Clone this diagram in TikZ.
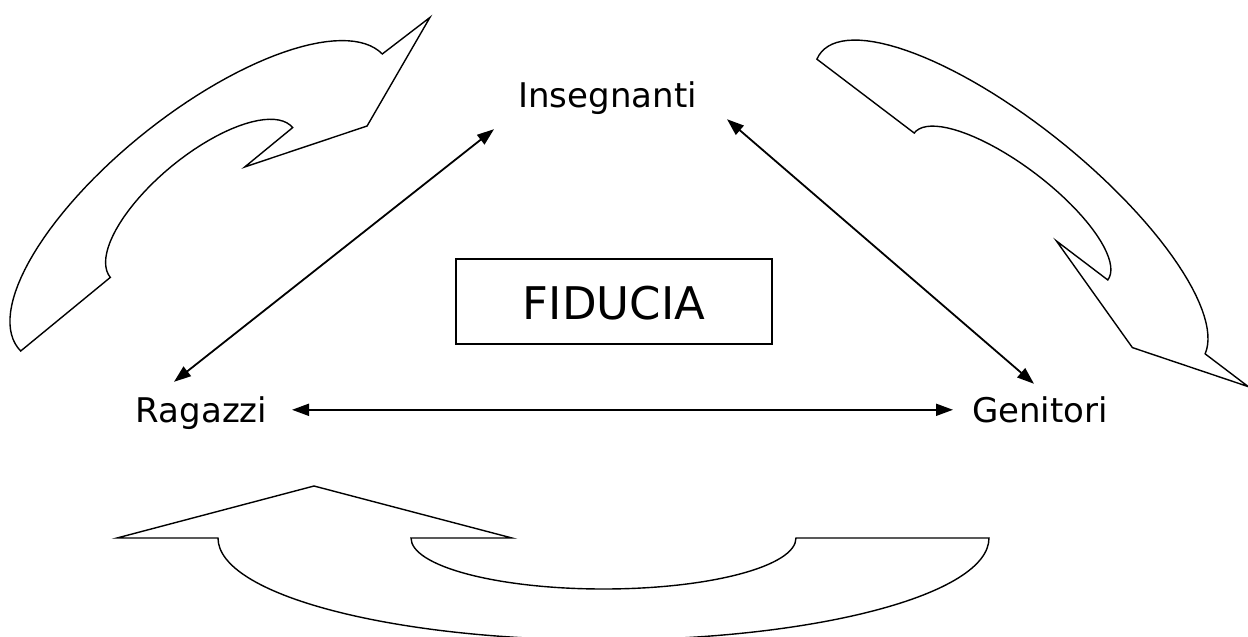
\documentclass[tikz,border=0pt]{standalone}
\usepackage{fontspec}
\setmainfont{DejaVu Sans}
\usetikzlibrary{arrows.meta,calc}
\begin{document}
\begin{tikzpicture}[x=1pt,y=-1pt,
  word/.style={inner sep=0pt, text height=25pt, text depth=8pt, anchor=base,
    font=\fontsize{34}{40}\selectfont},
  titlebox/.style={draw, line width=1.5pt, minimum width=316pt, minimum height=85pt,
    inner sep=0pt, text height=35pt, text depth=0pt, font=\fontsize{45}{50}\selectfont},
  link/.style={{Triangle[length=17pt,width=12pt]}-{Triangle[length=17pt,width=12pt]},
    line width=1.8pt},
  bent/.style={draw, line width=1.4pt, line join=miter, fill=white}]

% page
\fill[white] (0,0) rectangle (1248,637);
\useasboundingbox (0,0) rectangle (1248,637);
\clip (0,0) rectangle (1248,637);

% labels
\node[word] (ins) at (607.5,107) {Insegnanti};
\node[word] (rag) at (201.5,422) {Ragazzi};
\node[word] (gen) at (1040,422) {Genitori};
\node[titlebox] (fid) at (614,301.5) {FIDUCIA};

% two-way links
\draw[link] ($(rag.north)+(-27.5,-15)$) -- ($(ins.south)+(-113.5,14)$);
\draw[link] ($(ins.south)+(119.5,4)$) -- ($(gen.north)+(-6,-13)$);
\draw[link] ($(rag.north)+(90.5,13)$) -- ($(gen.north)+(-87,13)$);

% curved arrow, upper left
\begin{scope}[shift={(201.5,202.5)}, rotate=39.4, y=1pt]
  \draw[bent] (-234,0)
    -- plot[domain=180:0, samples=61, variable=\t] ({234*cos(\t)-8*sin(\t)},{90*sin(\t)})
    -- (294,-2) -- (176.5,-46) -- (56,0) -- (118,0)
    -- plot[domain=0:180, samples=41, variable=\t] ({118*cos(\t)},{47*sin(\t)})
    -- cycle;
\end{scope}

% curved arrow, upper right
\begin{scope}[shift={(1011,206.5)}, rotate=-37.2, y=1pt]
  \draw[bent] (-243.7,0)
    -- plot[domain=180:0, samples=61, variable=\t] ({243.7*cos(\t)-20*sin(\t)},{82*sin(\t)})
    -- (298,0) -- (182,-39) -- (57,0) -- (121.5,0)
    -- plot[domain=0:180, samples=41, variable=\t] ({121.5*cos(\t)},{41*sin(\t)})
    -- cycle;
\end{scope}

% curved arrow, bottom
\begin{scope}[shift={(603.5,538)}, y=1pt]
  \draw[bent] (-385.5,0) -- (-486.5,0) -- (-289.5,52) -- (-91.5,0) -- (-192.5,0)
    arc[start angle=180, end angle=360, x radius=192.5, y radius=51]
    -- (385.5,0)
    arc[start angle=0, end angle=-180, x radius=385.5, y radius=102]
    -- cycle;
\end{scope}
\end{tikzpicture}
\end{document}
